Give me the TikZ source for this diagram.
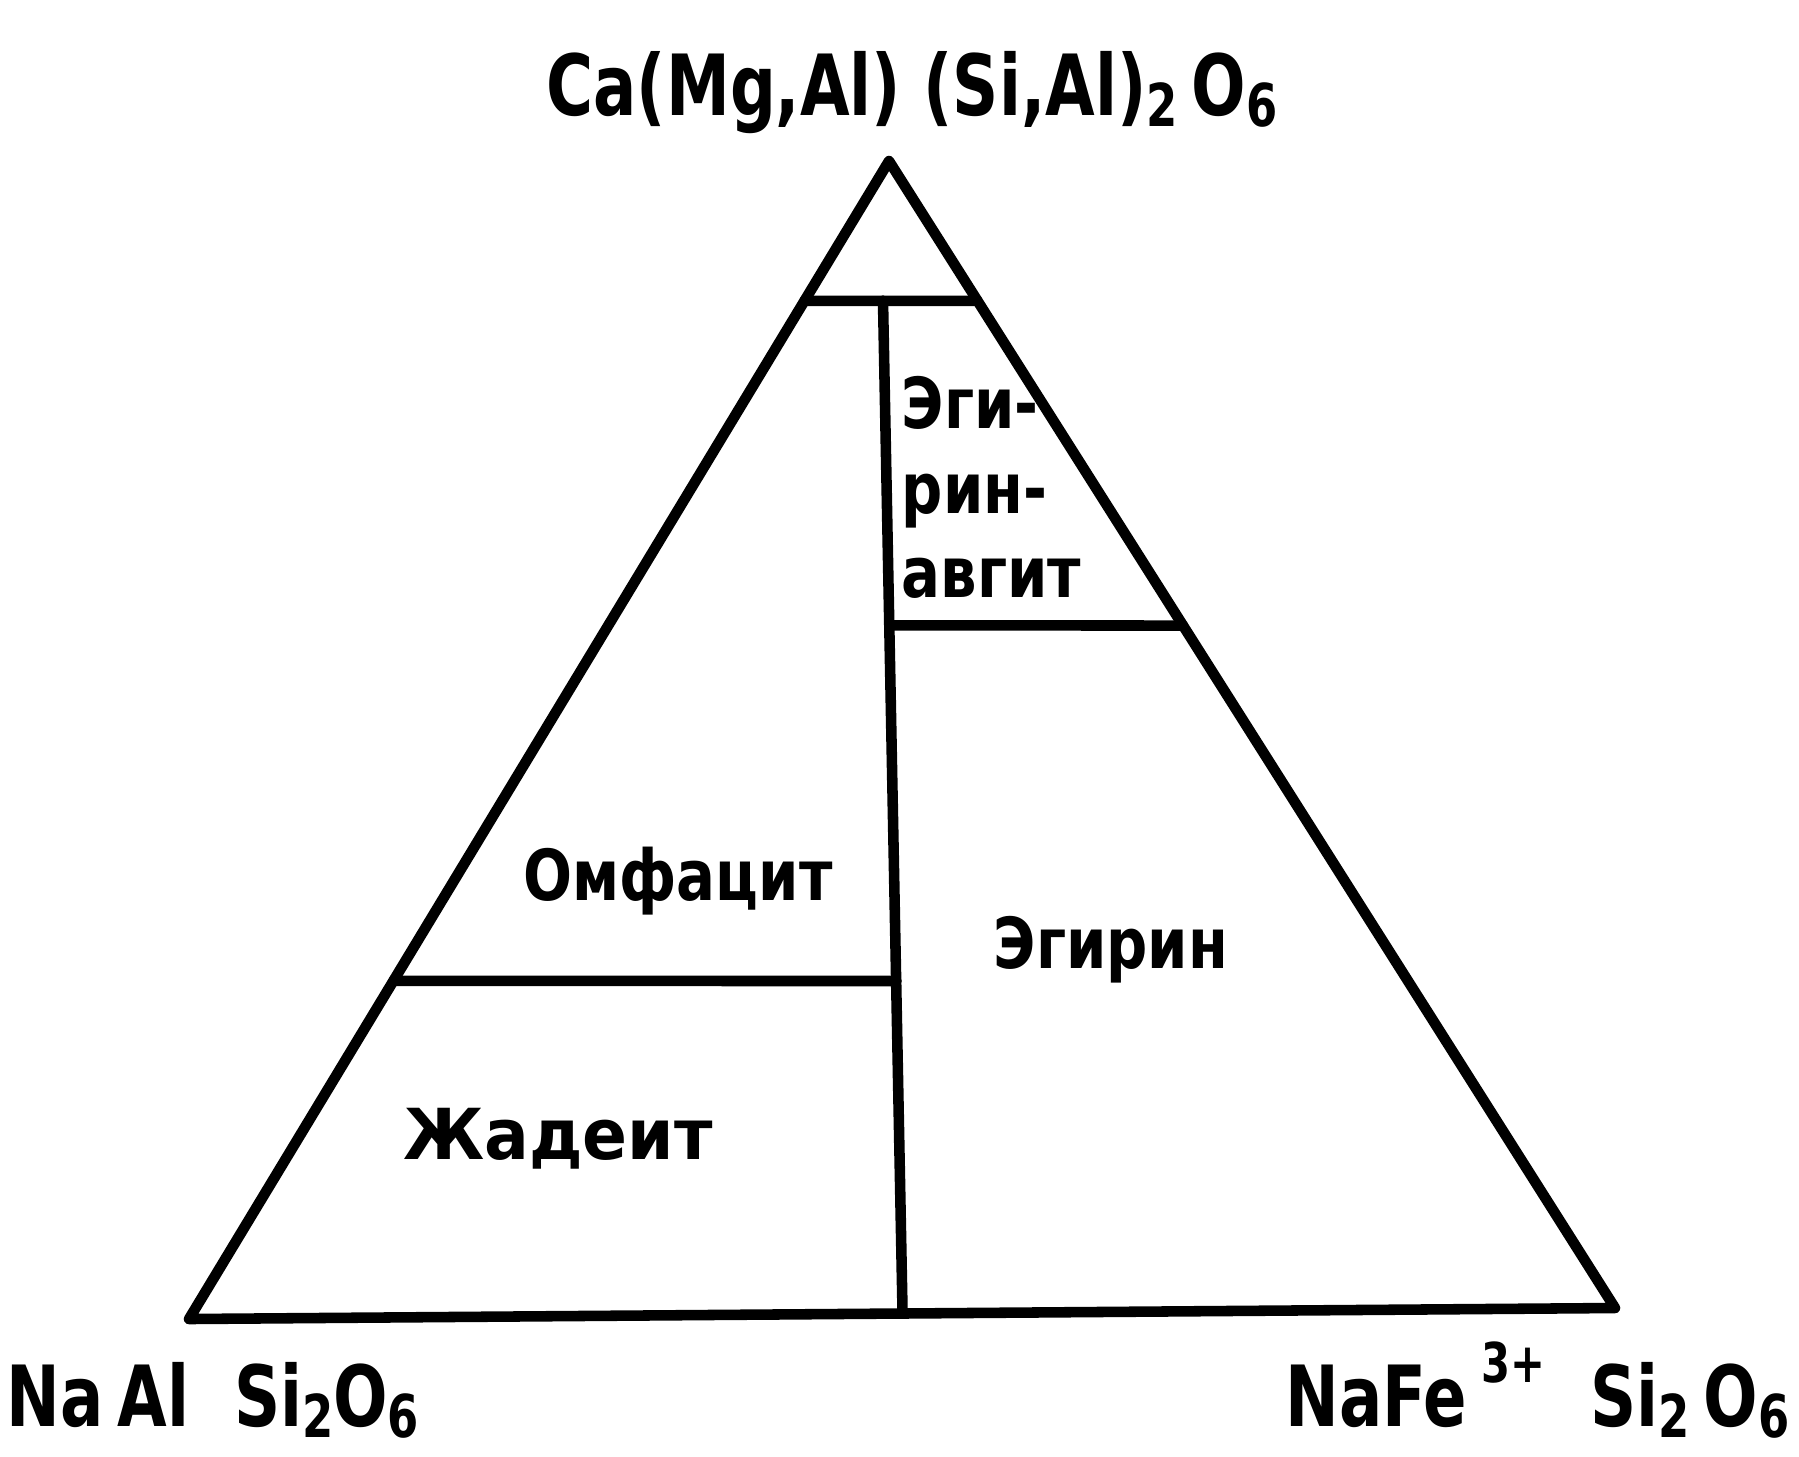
\documentclass[tikz,border=0pt]{standalone}
\usepackage{fontspec}
\usepackage{graphicx}
\usetikzlibrary{calc}
\newfontfamily\lblfont[FakeStretch=0.82]{DejaVu Sans}
\newfontfamily\frmfont[FakeStretch=0.76]{DejaVu Sans}
\newcommand\subx[1]{\raisebox{-0.25ex}{\scalebox{0.7}{#1}}}
\newcommand\supx[1]{\raisebox{0.95ex}{\scalebox{0.65}{#1}}}
\tikzset{
  edge/.style={line width=3pt, line join=round, line cap=round},
  lbl/.style={inner sep=0pt, font=\lblfont\bfseries\fontsize{20}{24}\selectfont},
  formula/.style={inner sep=0pt, font=\frmfont\bfseries\fontsize{24}{28}\selectfont}
}
\begin{document}
\begin{tikzpicture}[x=0.01cm,y=-0.01cm]
\useasboundingbox (0,0) rectangle (1799,1456);
\fill[white] (0,0) rectangle (1799,1456);
% corners
\coordinate (A) at (889,161);
\coordinate (B) at (189,1319);
\coordinate (C) at (1615,1308);
% division points
\coordinate (tl) at ($(A)!0.1208!(B)$);
\coordinate (tr) at ($(A)!0.122!(C)$);
\coordinate (vt) at (883,300.6);
\coordinate (vb) at ($(B)!0.5004!(C)$);
\coordinate (rl) at (889.6,625.3);
\coordinate (rr) at ($(A)!0.405!(C)$);
\coordinate (ll) at ($(A)!0.708!(B)$);
\coordinate (lr) at (896.5,981);
% triangle and divisions
\draw[edge] (A) -- (B) -- (C) -- cycle;
\draw[edge] (tl) -- (tr);
\draw[edge] (vt) -- (vb);
\draw[edge] (rl) -- (rr);
\draw[edge] (ll) -- (lr);
% labels
\node[formula, anchor=base] (top) at (912,115) {Ca(Mg,Al) (Si,Al)\subx{2}\,O\subx{6}};
\node[formula, anchor=base west] (na) at (6,1426) {Na\,Al\ \ Si\subx{2}O\subx{6}};
\node[formula, anchor=base east] (nf) at (1790,1426) {NaFe\,\supx{3+}\ \ Si\subx{2}\,O\subx{6}};
\node[lbl, anchor=north west, align=left] (eav) at (901,376) {Эги-\\рин-\\авгит};
\node[lbl] (omf) at (678,881) {Омфацит};
\node[lbl] (egi) at (1111,950) {Эгирин};
\node[lbl, xscale=1.15] (jad) at (558,1139) {Жадеит};
\end{tikzpicture}
\end{document}
